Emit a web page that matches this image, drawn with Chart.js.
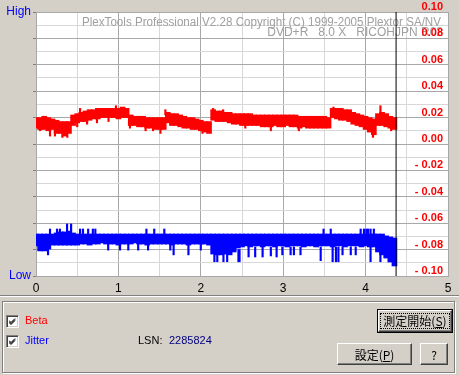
<!DOCTYPE html>
<html>
<head>
<meta charset="utf-8">
<script src="https://cdn.jsdelivr.net/npm/chart.js@4.4.1/dist/chart.umd.min.js"></script>
<style>
  body { margin: 0; width: 459px; height: 375px; background: #d4d0c8; position: relative; overflow: hidden;
         font-family: "Liberation Sans", Arial, sans-serif; font-size: 11px; }
  #chartBox { position: absolute; left: 0; top: 0; width: 459px; height: 298px; }
  .etch { position: absolute; left: 0; top: 295px; width: 459px; height: 1px; background: #808080; border-bottom: 1px solid #fff; }
  .panel { position: absolute; left: 2px; top: 301px; width: 451px; height: 70px; border: 1px solid #808080; box-shadow: inset 1px 1px 0 #fff, 1px 1px 0 #fff; }
  .cb { position: absolute; left: 6px; width: 13px; height: 13px; box-sizing: border-box; background: #fff;
        border-top: 1px solid #808080; border-left: 1px solid #808080; border-right: 1px solid #fff; border-bottom: 1px solid #fff;
        box-shadow: inset 1px 1px 0 #404040, inset -1px -1px 0 #d4d0c8; }
  .cb svg { position: absolute; left: 2px; top: 2px; }
  .lbl { position: absolute; line-height: 14px; white-space: nowrap; }
  .btn { position: absolute; box-sizing: border-box; background: #d4d0c8;
         border-top: 1px solid #fff; border-left: 1px solid #fff; border-right: 1px solid #404040; border-bottom: 1px solid #404040;
         box-shadow: inset -1px -1px 0 #808080;
         font: 12px "Noto Sans CJK JP", sans-serif; color: #000;
         display: flex; align-items: center; justify-content: center; }
  .def { position: absolute; box-sizing: border-box; border: 1px solid #000; }
  .focus { border: 1px dotted #000; padding: 0 2px; line-height: 14px; }
</style>
</head>
<body>
<div id="chartBox"><canvas id="plexChart" width="459" height="298"></canvas></div>

<div class="etch"></div>
<div class="panel"></div>

<div class="cb" style="top:315px"><svg width="7" height="7" viewBox="0 0 7 7"><path d="M0 2.5 L2 4.5 L6 0.5 M0 3.5 L2 5.5 L6 1.5 M0 4.5 L2 6.5 L6 2.5" stroke="#000" stroke-width="1" fill="none"/></svg></div>
<div class="cb" style="top:335px"><svg width="7" height="7" viewBox="0 0 7 7"><path d="M0 2.5 L2 4.5 L6 0.5 M0 3.5 L2 5.5 L6 1.5 M0 4.5 L2 6.5 L6 2.5" stroke="#000" stroke-width="1" fill="none"/></svg></div>
<div class="lbl" style="left:25px; top:313px; color:#ff0000">Beta</div>
<div class="lbl" style="left:25px; top:333px; color:#0000ff">Jitter</div>
<div class="lbl" style="left:138px; top:333px; color:#000">LSN:</div>
<div class="lbl" style="left:169px; top:333px; color:#000080">2285824</div>

<div class="def" style="left:377px; top:309px; width:76px; height:24px">
  <div class="btn" style="left:0; top:0; width:74px; height:22px"><span class="focus">測定開始(<u>S</u>)</span></div>
</div>
<div class="btn" style="left:337px; top:343px; width:75px; height:22px">設定(<u>P</u>)</div>
<div class="btn" style="left:420px; top:343px; width:28px; height:22px">?</div>

<script>
// PlexTools Beta / Jitter graph

// header text printed inside the plot
const headerLines = [
    'PlexTools Professional V2.28 Copyright (C) 1999-2005 Plextor SA/NV',
    'DVD+R   8.0 X   RICOHJPN R02'
];

// x axis (GB) ticks
const xTicks = [0, 1, 2, 3, 4, 5];

// sample positions along the disc (GB)
const sampleX = [
    0.00, 0.05, 0.10, 0.15, 0.20, 0.25, 0.30, 0.35, 0.40, 0.45,
    0.50, 0.55, 0.60, 0.65, 0.70, 0.75, 0.80, 0.85, 0.90, 0.95,
    1.00, 1.05, 1.10, 1.15, 1.20, 1.25, 1.30, 1.35, 1.40, 1.45,
    1.50, 1.55, 1.60, 1.65, 1.70, 1.75, 1.80, 1.85, 1.90, 1.95,
    2.00, 2.05, 2.10, 2.15, 2.20, 2.25, 2.30, 2.35, 2.40, 2.45,
    2.50, 2.55, 2.60, 2.65, 2.70, 2.75, 2.80, 2.85, 2.90, 2.95,
    3.00, 3.05, 3.10, 3.15, 3.20, 3.25, 3.30, 3.35, 3.40, 3.45,
    3.50, 3.55, 3.60, 3.65, 3.70, 3.75, 3.80, 3.85, 3.90, 3.95,
    4.00, 4.05, 4.10, 4.15, 4.20, 4.25, 4.30, 4.35
];

// Beta band (right axis), upper and lower edge per sample
const betaHigh = [
    0.020, 0.020, 0.021, 0.020, 0.019, 0.018, 0.017, 0.017, 0.017, 0.022,
    0.023, 0.024, 0.025, 0.026, 0.026, 0.027, 0.027, 0.027, 0.027, 0.027,
    0.027, 0.028, 0.027, 0.022, 0.021, 0.021, 0.021, 0.020, 0.020, 0.020,
    0.020, 0.020, 0.024, 0.023, 0.023, 0.022, 0.021, 0.020, 0.020, 0.019,
    0.018, 0.017, 0.017, 0.026, 0.025, 0.025, 0.024, 0.024, 0.023, 0.023,
    0.023, 0.023, 0.023, 0.022, 0.022, 0.022, 0.022, 0.022, 0.022, 0.022,
    0.022, 0.022, 0.022, 0.022, 0.021, 0.021, 0.021, 0.021, 0.021, 0.021,
    0.021, 0.020, 0.027, 0.027, 0.027, 0.026, 0.026, 0.024, 0.023, 0.022,
    0.021, 0.020, 0.019, 0.023, 0.024, 0.023, 0.021, 0.020
];
const betaLow = [
    0.012, 0.011, 0.011, 0.010, 0.011, 0.008, 0.008, 0.006, 0.008, 0.014,
    0.016, 0.017, 0.017, 0.018, 0.019, 0.019, 0.020, 0.020, 0.020, 0.020,
    0.019, 0.020, 0.020, 0.014, 0.014, 0.013, 0.013, 0.012, 0.012, 0.011,
    0.011, 0.011, 0.016, 0.014, 0.014, 0.013, 0.012, 0.012, 0.011, 0.011,
    0.010, 0.009, 0.008, 0.018, 0.017, 0.017, 0.017, 0.016, 0.015, 0.015,
    0.014, 0.014, 0.014, 0.014, 0.014, 0.013, 0.013, 0.013, 0.014, 0.013,
    0.013, 0.014, 0.013, 0.013, 0.012, 0.013, 0.012, 0.012, 0.012, 0.012,
    0.012, 0.012, 0.020, 0.019, 0.018, 0.018, 0.017, 0.015, 0.014, 0.013,
    0.011, 0.009, 0.007, 0.014, 0.014, 0.013, 0.012, 0.011
];
// single Beta samples that stick out of the band: [x, low, high]
const betaSpikes = [
    [0.05, 0.010, 0.013], [0.17, 0.006, 0.012], [0.23, 0.006, 0.010], [0.32, 0.005, 0.010],
    [0.38, 0.005, 0.009], [0.50, 0.013, 0.018], [0.535, 0.020, 0.027], [0.62, 0.015, 0.019],
    [0.74, 0.016, 0.020], [0.88, 0.017, 0.021], [0.97, 0.025, 0.029], [1.14, 0.012, 0.016],
    [1.33, 0.010, 0.014], [1.42, 0.010, 0.014], [1.51, 0.008, 0.012], [1.57, 0.022, 0.026],
    [2.02, 0.008, 0.012], [2.15, 0.022, 0.027], [2.27, 0.022, 0.026], [2.54, 0.012, 0.016],
    [2.85, 0.010, 0.014], [3.19, 0.010, 0.014], [3.61, 0.024, 0.028], [4.09, 0.005, 0.010],
    [4.18, 0.022, 0.029], [4.31, 0.010, 0.014]
];

// Jitter band (left axis, Low = 0 .. High = 100)
const jitterHigh = [
    15.9, 15.9, 15.9, 15.9, 15.9, 16.3, 16.7, 16.7, 17.0, 16.3,
    15.9, 15.9, 15.9, 15.9, 15.9, 15.9, 15.9, 15.9, 15.9, 15.9,
    15.9, 15.9, 15.9, 15.9, 15.9, 15.9, 15.9, 15.9, 15.9, 15.9,
    15.9, 15.9, 15.9, 15.9, 15.9, 15.9, 15.9, 15.9, 15.9, 15.9,
    15.9, 15.9, 15.9, 15.9, 15.9, 15.9, 15.9, 15.9, 15.9, 15.9,
    15.9, 15.9, 15.9, 15.9, 15.9, 15.9, 15.9, 15.9, 15.9, 15.9,
    15.9, 15.9, 15.9, 15.9, 15.9, 15.9, 15.9, 15.9, 15.9, 15.9,
    15.9, 15.9, 15.9, 15.9, 15.9, 15.9, 15.9, 15.9, 15.9, 15.9,
    15.9, 15.9, 15.9, 15.9, 15.9, 15.2, 14.8, 14.4
];
const jitterLow = [
    11.4, 9.5, 9.5, 10.2, 11.7, 11.7, 11.7, 11.7, 11.7, 11.7,
    11.7, 12.1, 12.1, 11.7, 12.1, 12.1, 12.5, 12.1, 12.1, 12.1,
    11.7, 12.1, 12.1, 12.1, 12.5, 12.1, 12.1, 11.7, 12.1, 12.1,
    12.1, 12.1, 12.1, 11.7, 12.1, 12.1, 12.1, 11.7, 12.1, 12.1,
    12.1, 12.1, 11.7, 8.3, 8.0, 8.0, 8.3, 8.0, 9.1, 10.6,
    11.0, 11.4, 11.0, 11.4, 11.4, 11.0, 11.4, 11.4, 11.0, 11.4,
    11.4, 11.0, 11.4, 11.4, 11.4, 11.0, 11.4, 11.4, 11.0, 11.4,
    11.4, 11.4, 11.0, 11.4, 11.4, 11.0, 11.4, 11.4, 11.4, 11.0,
    11.4, 11.0, 11.0, 9.1, 8.0, 6.8, 5.3, 3.8
];
// single Jitter samples that stick out of the band: [x, low, high]
const jitterSpikes = [
    [0.17, 15.5, 17.8], [0.255, 15.5, 17.8], [0.29, 15.5, 17.8], [0.377, 15.5, 19.7],
    [0.426, 15.5, 19.7], [0.535, 15.5, 17.8], [0.57, 15.5, 17.8], [0.633, 15.5, 17.8],
    [0.69, 15.5, 17.8], [0.72, 15.5, 17.8], [1.34, 15.5, 17.8], [1.435, 15.5, 17.8],
    [1.557, 15.5, 17.8], [3.49, 15.5, 17.8], [3.577, 15.5, 17.8], [3.94, 15.5, 17.8],
    [3.98, 15.5, 17.8], [4.01, 15.5, 17.8], [4.03, 15.5, 17.8], [4.06, 15.5, 17.8],
    [4.10, 15.5, 17.8],
    [0.146, 8.0, 11.0], [0.876, 9.8, 12.0], [1.02, 9.8, 12.0], [1.12, 9.8, 12.0],
    [1.24, 9.8, 12.0], [1.36, 9.8, 12.0], [1.63, 9.8, 12.0], [1.67, 8.0, 12.0],
    [1.85, 8.0, 12.0], [2.00, 9.8, 12.0], [2.165, 5.4, 9.0], [2.20, 5.4, 9.0],
    [2.275, 5.4, 9.0], [2.32, 5.4, 9.0], [2.457, 5.4, 10.0], [2.47, 5.4, 10.0],
    [2.58, 7.2, 11.0], [2.66, 7.2, 11.0], [2.75, 7.2, 11.0], [2.85, 7.6, 11.0],
    [2.92, 7.2, 11.0], [2.99, 8.0, 11.0], [3.09, 8.0, 11.0], [3.13, 8.0, 11.0],
    [3.21, 8.0, 11.0], [3.455, 5.8, 11.0], [3.60, 5.4, 11.0], [3.64, 5.4, 11.0],
    [3.67, 5.4, 11.0], [3.72, 8.0, 11.0], [3.82, 8.0, 11.0], [3.88, 8.0, 11.0],
    [4.06, 5.4, 11.0], [4.18, 5.4, 9.0]
];

// current position marker
const cursorPos = 4.37;

const GRID_DARK = '#a8a8a8';
const GRID_LIGHT = '#d8d8d8';

Chart.defaults.font.family = '"Liberation Sans", Arial, sans-serif';

function bandData(xs, lows, highs) {
    return xs.map((x, i) => ({ x: x, y: [lows[i], highs[i]] }));
}

function spikeData(list) {
    return list.map(s => ({ x: s[0], y: [s[1], s[2]] }));
}

function betaLabel(v) {
    const n = Math.round(v * 100);
    if (n % 2 !== 0) return '';
    if (n < 0) return '- ' + (-n / 100).toFixed(2);
    return (n / 100).toFixed(2);
}

// white plot area + header text
const plexPlot = {
    id: 'plexPlot',
    beforeDraw(chart) {
        const { ctx, chartArea: a } = chart;
        ctx.save();
        ctx.fillStyle = '#ffffff';
        ctx.fillRect(a.left, a.top, a.right - a.left, a.bottom - a.top);
        ctx.restore();
    },
    beforeDatasetsDraw(chart) {
        const { ctx, chartArea: a } = chart;
        ctx.save();
        ctx.fillStyle = '#a0a0a0';
        ctx.font = '12px "Liberation Sans", Arial, sans-serif';
        ctx.textAlign = 'right';
        ctx.textBaseline = 'middle';
        ctx.fillText(headerLines[0], a.right - 7, a.top + 11, 359);
        ctx.fillText(headerLines[1], a.right - 5, a.top + 21, 184);
        ctx.restore();
    }
};

const ctx = document.getElementById('plexChart').getContext('2d');
new Chart(ctx, {
    type: 'bar',
    data: {
        datasets: [
            {
                type: 'line',
                data: [{ x: cursorPos, y: -0.1 }, { x: cursorPos, y: 0.1 }],
                yAxisID: 'yR',
                borderColor: '#000000',
                borderWidth: 1,
                pointRadius: 0,
                order: 0
            },
            {
                data: bandData(sampleX, betaLow, betaHigh),
                yAxisID: 'yR',
                backgroundColor: '#ff0000',
                grouped: false,
                barThickness: 5,
                order: 1
            },
            {
                data: spikeData(betaSpikes),
                yAxisID: 'yR',
                backgroundColor: '#ff0000',
                grouped: false,
                barThickness: 1.5,
                order: 1
            },
            {
                data: bandData(sampleX, jitterLow, jitterHigh),
                yAxisID: 'y',
                backgroundColor: '#0000ff',
                grouped: false,
                barThickness: 5,
                order: 1
            },
            {
                data: spikeData(jitterSpikes),
                yAxisID: 'y',
                backgroundColor: '#0000ff',
                grouped: false,
                barThickness: 1.5,
                order: 1
            }
        ]
    },
    options: {
        responsive: false,
        animation: false,
        layout: { padding: { top: 12, left: 0, right: 0, bottom: 0 } },
        plugins: {
            legend: { display: false },
            tooltip: { enabled: false }
        },
        scales: {
            x: {
                type: 'linear',
                min: 0,
                max: 5,
                offset: false,
                afterFit: s => { s.height = 22; },
                grid: {
                    offset: false,
                    drawTicks: false,
                    color: c => Number.isInteger(c.tick.value) ? GRID_DARK : GRID_LIGHT
                },
                border: { color: GRID_DARK },
                ticks: {
                    stepSize: 0.5,
                    autoSkip: false,
                    maxRotation: 0,
                    padding: 5,
                    color: '#000000',
                    font: { size: 12 },
                    callback: v => xTicks.includes(v) ? String(v) : ''
                }
            },
            y: {
                position: 'left',
                min: 0,
                max: 100,
                afterFit: s => { s.width = 36; },
                grid: {
                    drawOnChartArea: false,
                    drawTicks: true,
                    tickLength: 3,
                    tickColor: '#808080'
                },
                border: { color: GRID_DARK },
                ticks: {
                    stepSize: 10,
                    autoSkip: false,
                    padding: 2,
                    color: '#0000ff',
                    font: { size: 12 },
                    callback: v => v === 100 ? 'High' : (v === 0 ? 'Low' : '')
                }
            },
            yR: {
                position: 'right',
                min: -0.1,
                max: 0.1,
                afterFit: s => { s.width = 11; },
                grid: {
                    drawTicks: false,
                    color: c => Math.round(c.tick.value * 100) % 2 === 0 ? GRID_DARK : GRID_LIGHT
                },
                border: { display: false },
                ticks: {
                    stepSize: 0.01,
                    autoSkip: false,
                    mirror: true,
                    padding: -5,
                    labelOffset: -5,
                    z: 1,
                    color: '#ff0000',
                    font: { size: 11, weight: 'bold' },
                    callback: betaLabel
                }
            }
        }
    },
    plugins: [plexPlot]
});
</script>
</body>
</html>
